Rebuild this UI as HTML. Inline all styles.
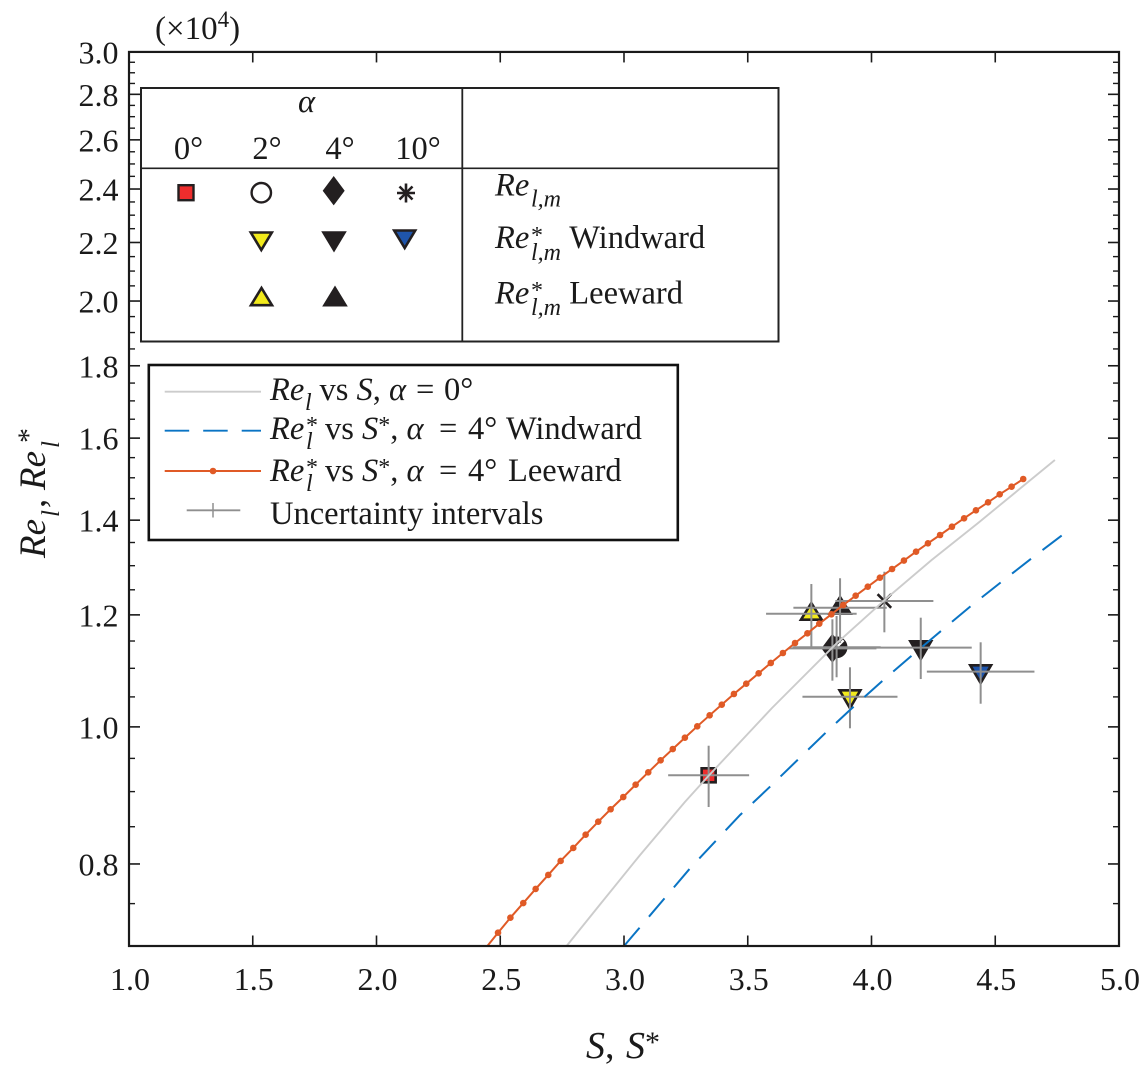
<!DOCTYPE html>
<html lang="en">
<head>
<meta charset="utf-8">
<title>Re versus S chart</title>
<style>
html,body{margin:0;padding:0;background:#fff;}
svg{display:block;}
text{font-family:"Liberation Serif",serif;fill:#1a1a1a;}
.it{font-style:italic;}
.lg{font-size:32.5px;}
.sub{font-size:24px;font-style:italic;}
.star{font-size:24px;}
.tick{font-size:32px;}
</style>
</head>
<body>
<svg id="chart" xmlns="http://www.w3.org/2000/svg" width="1141" height="1087" viewBox="0 0 1141 1087">
  <defs>
    <clipPath id="plot-clip"><rect x="129" y="52" width="990" height="894"/></clipPath>
  </defs>
  <rect x="0" y="0" width="1141" height="1087" fill="#fff"/>
  <g id="marks" clip-path="url(#plot-clip)"></g>
  <g id="axes"></g>

  <text x="155" y="39" font-size="33">(×10<tspan font-size="23" dy="-12">4</tspan><tspan dy="12">)</tspan></text>

  <g transform="translate(45,558) rotate(-90)">
    <text class="it" x="0" y="0" font-size="37">Re</text>
    <text class="it" x="41" y="14" font-size="25">l</text>
    <text x="50" y="0" font-size="37">,</text>
    <text class="it" x="68" y="0" font-size="37">Re</text>
    <text class="it" x="110" y="14" font-size="25">l</text>
    <text x="115" y="-7" font-size="30">*</text>
  </g>
  <g>
    <text class="it" x="586" y="1058" font-size="38">S</text>
    <text x="605" y="1058" font-size="38">,</text>
    <text class="it" x="626" y="1058" font-size="38">S</text>
    <text x="645" y="1052" font-size="30">*</text>
  </g>

  <g>
    <rect x="141" y="88" width="637.5" height="253.5" fill="#fff" stroke="#222" stroke-width="2"/>
    <line x1="462.3" y1="88" x2="462.3" y2="341.5" stroke="#222" stroke-width="1.8"/>
    <line x1="141" y1="168.3" x2="778.5" y2="168.3" stroke="#222" stroke-width="1.6"/>
    <text class="lg it" x="306.5" y="112" text-anchor="middle">α</text>
    <text class="lg" x="188.5" y="159" text-anchor="middle">0°</text>
    <text class="lg" x="267" y="159" text-anchor="middle">2°</text>
    <text class="lg" x="340" y="159" text-anchor="middle">4°</text>
    <text class="lg" x="418" y="159" text-anchor="middle">10°</text>

    <rect x="178.5" y="185.2" width="15" height="15" fill="#ee2d2d" stroke="#231f20" stroke-width="2.4"/>
    <circle cx="261.3" cy="192.7" r="9.7" fill="#fff" stroke="#231f20" stroke-width="2.4"/>
    <polygon points="333.7,176 344.7,190.7 333.7,205.4 322.7,190.7" fill="#231f20"/>
    <g stroke="#231f20" stroke-width="2.6">
      <line x1="406" y1="183.5" x2="406" y2="202.5"/>
      <line x1="397" y1="193" x2="415" y2="193"/>
      <line x1="399.5" y1="186.5" x2="412.5" y2="199.5"/>
      <line x1="412.5" y1="186.5" x2="399.5" y2="199.5"/>
    </g>
    <polygon points="250.8,232.5 271.8,232.5 261.3,250" fill="#f2ea1c" stroke="#231f20" stroke-width="2.6"/>
    <polygon points="323.5,232.5 344.5,232.5 334,250" fill="#231f20" stroke="#231f20" stroke-width="2.6"/>
    <polygon points="394.2,230.5 415.2,230.5 404.7,248" fill="#1f55ab" stroke="#231f20" stroke-width="2.6"/>
    <polygon points="251,305.2 272,305.2 261.5,288" fill="#f2ea1c" stroke="#231f20" stroke-width="2.6"/>
    <polygon points="324.5,305.2 345.5,305.2 335,288" fill="#231f20" stroke="#231f20" stroke-width="2.6"/>

    <g>
      <text class="lg it" x="495" y="195.7">Re</text>
      <text class="sub" x="531" y="206.7">l,m</text>
    </g>
    <g>
      <text class="lg it" x="495" y="248">Re</text>
      <text class="star" x="531" y="243">*</text>
      <text class="sub" x="531" y="260">l,m</text>
      <text class="lg" x="569.3" y="248">Windward</text>
    </g>
    <g>
      <text class="lg it" x="495" y="303.3">Re</text>
      <text class="star" x="531" y="298">*</text>
      <text class="sub" x="531" y="315">l,m</text>
      <text class="lg" x="569.3" y="303.3">Leeward</text>
    </g>
  </g>

  <g>
    <rect x="148.8" y="365" width="529" height="175" fill="#fff" stroke="#111" stroke-width="2.6"/>
    <g>
      <line x1="164.7" y1="391.7" x2="261" y2="391.7" stroke="#cccccc" stroke-width="1.8"/>
      <text class="lg it" x="270" y="400">Re</text>
      <text class="sub" x="305" y="410">l</text>
      <text class="lg" x="319.5" y="400">vs <tspan class="it">S</tspan>, <tspan class="it">α</tspan></text>
      <text class="lg" x="416" y="400">=</text>
      <text class="lg" x="444" y="400">0°</text>
    </g>
    <g>
      <line x1="164.7" y1="430.7" x2="261" y2="430.7" stroke="#0a74c4" stroke-width="1.8" stroke-dasharray="24.5 14"/>
      <text class="lg it" x="270" y="439">Re</text>
      <text class="star" x="306" y="433">*</text>
      <text class="sub" x="306" y="449">l</text>
      <text class="lg" x="325" y="439">vs <tspan class="it">S</tspan><tspan font-size="24" dy="-6">*</tspan><tspan dy="6">, </tspan><tspan class="it">α</tspan></text>
      <text class="lg" x="439" y="439">=</text>
      <text class="lg" x="468" y="439">4°</text>
      <text class="lg" x="506" y="439">Windward</text>
    </g>
    <g>
      <line x1="164.7" y1="471" x2="261" y2="471" stroke="#e05a26" stroke-width="1.9"/>
      <circle cx="213" cy="471" r="3.3" fill="#e05a26"/>
      <text class="lg it" x="270" y="481">Re</text>
      <text class="star" x="306" y="475">*</text>
      <text class="sub" x="306" y="491">l</text>
      <text class="lg" x="325" y="481">vs <tspan class="it">S</tspan><tspan font-size="24" dy="-6">*</tspan><tspan dy="6">, </tspan><tspan class="it">α</tspan></text>
      <text class="lg" x="439" y="481">=</text>
      <text class="lg" x="468" y="481">4°</text>
      <text class="lg" x="508" y="481">Leeward</text>
    </g>
    <g>
      <line x1="186.7" y1="510.3" x2="240.3" y2="510.3" stroke="#8f8f8f" stroke-width="1.8"/>
      <line x1="213" y1="503" x2="213" y2="517.5" stroke="#8f8f8f" stroke-width="1.5"/>
      <text class="lg" x="270" y="524">Uncertainty intervals</text>
    </g>
  </g>
</svg>
<script>
const xTickValues = [1.0, 1.5, 2.0, 2.5, 3.0, 3.5, 4.0, 4.5, 5.0];
const xTickLabels = ['1.0', '1.5', '2.0', '2.5', '3.0', '3.5', '4.0', '4.5', '5.0'];
const yTickValues = [0.8, 1.0, 1.2, 1.4, 1.6, 1.8, 2.0, 2.2, 2.4, 2.6, 2.8, 3.0];
const yTickLabels = ['0.8', '1.0', '1.2', '1.4', '1.6', '1.8', '2.0', '2.2', '2.4', '2.6', '2.8', '3.0'];
const yMinorValues = [0.75, 0.85, 0.9, 0.95, 1.05, 1.1, 1.15, 1.25, 1.3, 1.35, 1.45, 1.5, 1.55, 1.65, 1.7, 1.75, 1.85, 1.9, 1.95, 2.05, 2.1, 2.15, 2.25, 2.3, 2.35, 2.45, 2.5, 2.55, 2.65, 2.7, 2.75, 2.85, 2.9, 2.95];

const uniformS = [2.768, 2.903, 3.065, 3.246, 3.341, 3.598, 3.859, 4.061, 4.243, 4.432, 4.741];
const uniformRe = [0.7000, 0.7489, 0.8118, 0.8849, 0.9232, 1.0312, 1.1457, 1.2328, 1.3121, 1.3942, 1.5440];

const windwardS = [3.000, 3.267, 3.469, 3.590, 3.704, 3.815, 3.913, 4.045, 4.162, 4.284, 4.405, 4.526, 4.650, 4.775];
const windwardRe = [0.7000, 0.7944, 0.8664, 0.9072, 0.9486, 0.9906, 1.0279, 1.0781, 1.1228, 1.1702, 1.2188, 1.2666, 1.3170, 1.3682];

const leewardS = [2.448, 2.491, 2.541, 2.593, 2.643, 2.694, 2.744, 2.795, 2.845, 2.896, 2.946, 2.997, 3.047, 3.098, 3.148, 3.197, 3.246, 3.296, 3.346, 3.395, 3.444, 3.494, 3.544, 3.593, 3.642, 3.691, 3.741, 3.789, 3.838, 3.886, 3.936, 3.985, 4.034, 4.083, 4.131, 4.180, 4.228, 4.277, 4.325, 4.374, 4.422, 4.471, 4.518, 4.566, 4.613];
const leewardRe = [0.7000, 0.7153, 0.7330, 0.7507, 0.7681, 0.7858, 0.8039, 0.8211, 0.8390, 0.8570, 0.8745, 0.8921, 0.9102, 0.9287, 0.9470, 0.9646, 0.9825, 1.0009, 1.0190, 1.0368, 1.0550, 1.0728, 1.0911, 1.1096, 1.1278, 1.1463, 1.1645, 1.1829, 1.2011, 1.2194, 1.2380, 1.2563, 1.2748, 1.2930, 1.3110, 1.3299, 1.3482, 1.3666, 1.3851, 1.4042, 1.4226, 1.4413, 1.4602, 1.4784, 1.4970];

const pointKinds = ['square-red', 'circle-white', 'up-yellow', 'up-black', 'asterisk', 'down-black', 'down-blue', 'down-yellow', 'diamond-black'];
const pointS = [3.342, 3.859, 3.757, 3.873, 4.052, 4.199, 4.441, 3.913, 3.842];
const pointRe = [0.9242, 1.1383, 1.2023, 1.2141, 1.2274, 1.1376, 1.0940, 1.0503, 1.1364];
const pointSErr = [0.1636, 0.178, 0.183, 0.1886, 0.198, 0.206, 0.2174, 0.192, 0.178];
const pointReLow = [0.8777, 1.0841, 1.1394, 1.1463, 1.1664, 1.0810, 1.0384, 0.9977, 1.0781];
const pointReHigh = [0.9698, 1.1978, 1.2618, 1.2736, 1.2873, 1.1945, 1.1476, 1.1018, 1.1914];

const X0 = 129, X_PER_UNIT = 247.5, YBOTTOM = 946, Y_PER_DECADE = 1414.6, YMIN = 0.7;
function xScale(v) { return X0 + (v - 1) * X_PER_UNIT; }
function yScale(v) { return YBOTTOM - Y_PER_DECADE * Math.log10(v / YMIN); }

const NS = 'http://www.w3.org/2000/svg';
const marks = document.getElementById('marks');
const axes = document.getElementById('axes');
function make(tag, attrs, parent) {
  const el = document.createElementNS(NS, tag);
  for (const k in attrs) el.setAttribute(k, attrs[k]);
  parent.appendChild(el);
  return el;
}
function pathOf(xs, ys) {
  return xs.map((v, i) => xScale(v).toFixed(2) + ',' + yScale(ys[i]).toFixed(2)).join(' ');
}

const FILLS = {'square-red': '#ee2d2d', 'circle-white': '#231f20', 'up-yellow': '#f2ea1c', 'up-black': '#231f20', 'down-black': '#231f20', 'down-blue': '#1f55ab', 'down-yellow': '#f2ea1c', 'diamond-black': '#231f20'};
const INK = '#231f20';

pointKinds.forEach(function (kind, i) {
  const cx = xScale(pointS[i]);
  const cy = yScale(pointRe[i]);
  let m;
  if (kind.indexOf('square') === 0) {
    m = make('rect', {x: cx - 7, y: cy - 7, width: 14, height: 14, fill: FILLS[kind], stroke: INK, 'stroke-width': 2.6}, marks);
  } else if (kind.indexOf('circle') === 0) {
    m = make('g', {}, marks);
    make('circle', {cx: cx, cy: cy, r: 9.7, fill: FILLS[kind], stroke: INK, 'stroke-width': 2.4}, m);
  } else if (kind.indexOf('diamond') === 0) {
    m = make('polygon', {points: cx + ',' + (cy - 14.7) + ' ' + (cx + 11) + ',' + cy + ' ' + cx + ',' + (cy + 14.7) + ' ' + (cx - 11) + ',' + cy, fill: FILLS[kind]}, marks);
  } else if (kind.indexOf('up') === 0) {
    m = make('polygon', {points: (cx - 10.4) + ',' + (cy + 6) + ' ' + (cx + 10.4) + ',' + (cy + 6) + ' ' + cx + ',' + (cy - 10.6), fill: FILLS[kind], stroke: INK, 'stroke-width': 2.6}, marks);
  } else if (kind.indexOf('down') === 0) {
    m = make('polygon', {points: (cx - 10.4) + ',' + (cy - 6.4) + ' ' + (cx + 10.4) + ',' + (cy - 6.4) + ' ' + cx + ',' + (cy + 11.4), fill: FILLS[kind], stroke: INK, 'stroke-width': 2.6}, marks);
  } else {
    m = make('g', {stroke: INK, 'stroke-width': 2.6}, marks);
    make('line', {x1: cx - 6.8, y1: cy - 6.8, x2: cx + 6.8, y2: cy + 6.8}, m);
    make('line', {x1: cx + 6.8, y1: cy - 6.8, x2: cx - 6.8, y2: cy + 6.8}, m);
  }
  
  
});

const circleIndex = pointKinds.indexOf('circle-white');
const circleGlint = make('line', {x1: xScale(pointS[circleIndex]) + 1, y1: yScale(pointRe[circleIndex]) - 1, x2: xScale(pointS[circleIndex]) + 7, y2: yScale(pointRe[circleIndex]) - 7, stroke: '#fff', 'stroke-width': 2.4}, marks);



pointKinds.forEach(function (kind, i) {
  const g = make('g', {stroke: '#8f8f8f', 'stroke-width': 2}, marks);
  
  
  make('line', {x1: xScale(pointS[i] - pointSErr[i]), y1: yScale(pointRe[i]), x2: xScale(pointS[i] + pointSErr[i]), y2: yScale(pointRe[i])}, g);
  make('line', {x1: xScale(pointS[i]), y1: yScale(pointReLow[i]), x2: xScale(pointS[i]), y2: yScale(pointReHigh[i])}, g);
});

const uniformLine = make('polyline', {points: pathOf(uniformS, uniformRe), fill: 'none', stroke: '#cccccc', 'stroke-width': 1.9, 'stroke-linejoin': 'round'}, marks);



const windwardLine = make('polyline', {points: pathOf(windwardS, windwardRe), fill: 'none', stroke: '#0a74c4', 'stroke-width': 2, 'stroke-dasharray': '24 14.5'}, marks);



const leewardLine = make('polyline', {points: pathOf(leewardS, leewardRe), fill: 'none', stroke: '#e05a26', 'stroke-width': 2}, marks);



leewardS.forEach(function (v, i) {
  if (i === 0) return;
  const dot = make('circle', {cx: xScale(v), cy: yScale(leewardRe[i]), r: 3.3, fill: '#e05a26'}, marks);
  
  
});

const xL = xScale(1), xR = xScale(5), yT = yScale(3), yB = yScale(YMIN);
const frame = make('rect', {x: xL, y: yT, width: xR - xL, height: yB - yT, fill: 'none', stroke: '#1a1a1a', 'stroke-width': 2.2}, axes);



xTickValues.forEach(function (v, i) {
  const x = xScale(v);
  if (i > 0 && i < xTickValues.length - 1) {
    const b = make('line', {x1: x, y1: yB, x2: x, y2: yB - 10.5, stroke: '#1a1a1a', 'stroke-width': 1.6}, axes);
    
    
    const t = make('line', {x1: x, y1: yT, x2: x, y2: yT + 10.5, stroke: '#1a1a1a', 'stroke-width': 1.6}, axes);
    
    
  }
  const label = make('text', {x: x + 1, y: 990, 'text-anchor': 'middle', class: 'tick'}, axes);
  label.textContent = xTickLabels[i];
  
  
});

yTickValues.forEach(function (v, i) {
  const y = yScale(v);
  if (v < 3) {
    const l = make('line', {x1: xL, y1: y, x2: xL + 11, y2: y, stroke: '#1a1a1a', 'stroke-width': 1.6}, axes);
    
    
    const r = make('line', {x1: xR, y1: y, x2: xR - 11, y2: y, stroke: '#1a1a1a', 'stroke-width': 1.6}, axes);
    
    
  }
  const label = make('text', {x: 118.5, y: y + 11.5, 'text-anchor': 'end', class: 'tick'}, axes);
  label.textContent = yTickLabels[i];
  
  
});

yMinorValues.forEach(function (v) {
  const y = yScale(v);
  const l = make('line', {x1: xL, y1: y, x2: xL + 6, y2: y, stroke: '#1a1a1a', 'stroke-width': 1.4}, axes);
  
  
  const r = make('line', {x1: xR, y1: y, x2: xR - 6, y2: y, stroke: '#1a1a1a', 'stroke-width': 1.4}, axes);
  
  
});
</script>
</body>
</html>
